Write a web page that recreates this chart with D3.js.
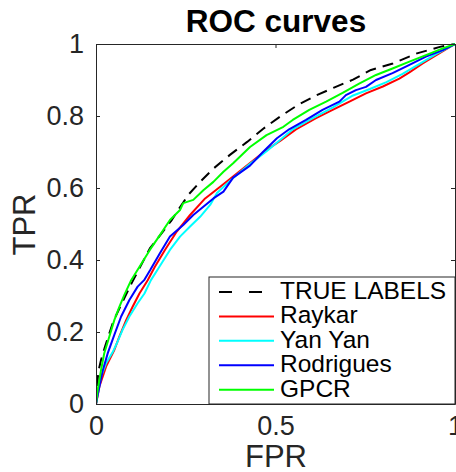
<!DOCTYPE html>
<html>
<head>
<meta charset="utf-8">
<script src="https://cdn.jsdelivr.net/npm/d3@7"></script>
<style>
html,body{margin:0;padding:0;background:#fff;}
svg{display:block;font-family:"Liberation Sans",Arial,Helvetica,sans-serif;}
</style>
</head>
<body>
<svg id="chart" width="456" height="472"></svg>
<script>
// ---- data (FPR, TPR) ----
const seriesNames = ["TRUE LABELS", "Raykar", "Yan Yan", "Rodrigues", "GPCR"];
const seriesColors = ["#000000", "#ff0000", "#00ffff", "#0000ff", "#00ff00"];

const trueLabels = [[0,0],[0.0064,0.090],[0.014,0.122],[0.025,0.159],[0.048,0.229],[0.072,0.280],[0.099,0.335],[0.150,0.432],[0.211,0.511],[0.229,0.539],[0.257,0.581],[0.290,0.617],[0.326,0.653],[0.373,0.692],[0.421,0.728],[0.465,0.764],[0.515,0.800],[0.563,0.831],[0.613,0.857],[0.663,0.879],[0.716,0.901],[0.766,0.928],[0.827,0.946],[0.894,0.974],[0.958,0.992],[1,1]];

const raykar = [[0,0],[0.0093,0.048],[0.028,0.104],[0.051,0.150],[0.065,0.187],[0.084,0.233],[0.102,0.270],[0.121,0.307],[0.144,0.344],[0.164,0.381],[0.192,0.428],[0.225,0.479],[0.262,0.525],[0.304,0.571],[0.345,0.603],[0.387,0.636],[0.429,0.669],[0.471,0.703],[0.513,0.731],[0.557,0.763],[0.613,0.794],[0.659,0.817],[0.706,0.840],[0.752,0.863],[0.799,0.882],[0.845,0.904],[0.873,0.921],[0.910,0.946],[0.956,0.974],[1,1]];

const yanYan = [[0,0],[0.0047,0.030],[0.014,0.076],[0.028,0.113],[0.047,0.145],[0.060,0.173],[0.074,0.206],[0.093,0.243],[0.116,0.280],[0.135,0.307],[0.153,0.344],[0.174,0.377],[0.206,0.428],[0.234,0.465],[0.262,0.493],[0.290,0.520],[0.318,0.553],[0.337,0.586],[0.382,0.628],[0.429,0.667],[0.476,0.703],[0.521,0.740],[0.548,0.763],[0.604,0.794],[0.660,0.824],[0.716,0.857],[0.763,0.875],[0.809,0.894],[0.854,0.917],[0.900,0.944],[0.947,0.972],[1,1]];

const rodrigues = [[0,0],[0.0047,0.025],[0.019,0.094],[0.033,0.142],[0.051,0.192],[0.070,0.243],[0.093,0.289],[0.116,0.326],[0.134,0.344],[0.151,0.372],[0.178,0.419],[0.206,0.465],[0.243,0.497],[0.271,0.525],[0.299,0.548],[0.327,0.571],[0.355,0.590],[0.382,0.629],[0.429,0.662],[0.465,0.700],[0.504,0.738],[0.538,0.763],[0.585,0.789],[0.631,0.817],[0.678,0.840],[0.696,0.858],[0.724,0.872],[0.752,0.881],[0.780,0.900],[0.826,0.919],[0.873,0.942],[0.919,0.965],[0.966,0.983],[1,1]];

const gpcr = [[0,0],[0.0047,0.039],[0.014,0.094],[0.023,0.141],[0.037,0.187],[0.051,0.233],[0.065,0.270],[0.079,0.303],[0.098,0.344],[0.150,0.428],[0.178,0.469],[0.206,0.511],[0.234,0.539],[0.243,0.558],[0.271,0.567],[0.299,0.594],[0.327,0.617],[0.355,0.645],[0.382,0.669],[0.429,0.714],[0.475,0.747],[0.522,0.770],[0.548,0.789],[0.594,0.817],[0.641,0.840],[0.687,0.864],[0.733,0.890],[0.780,0.914],[0.826,0.932],[0.873,0.951],[0.919,0.969],[0.966,0.988],[1,1]];

const seriesData = [trueLabels, raykar, yanYan, rodrigues, gpcr];
const xTicks = [0, 0.5, 1];
const yTicks = [0, 0.2, 0.4, 0.6, 0.8, 1];
const xTickLabels = ["0", "0.5", "1"];
const yTickLabels = ["0", "0.2", "0.4", "0.6", "0.8", "1"];

// ---- layout ----
const svg = d3.select("#chart");
const L = 96, R = 455, T = 44, B = 404;
const axisColor = "#262626";
const x = d3.scaleLinear().domain([0, 1]).range([L, R]);
const y = d3.scaleLinear().domain([0, 1]).range([B, T]);

svg.append("defs").append("clipPath").attr("id", "clip")
  .append("rect").attr("x", L).attr("y", T - 2).attr("width", R - L + 2).attr("height", B - T + 4);

svg.append("rect").attr("x", L).attr("y", T).attr("width", R - L).attr("height", B - T).attr("fill", "#fff");

// curves
const line = d3.line().x(d => x(d[0])).y(d => y(d[1]));
const g = svg.append("g").attr("clip-path", "url(#clip)");
seriesData.forEach((data, i) => {
  g.append("path").datum(data)
    .attr("d", line)
    .attr("fill", "none")
    .attr("stroke", seriesColors[i])
    .attr("stroke-width", 2)
    .attr("stroke-linejoin", "round")
    .attr("stroke-dasharray", i === 0 ? "11,7" : null);
});

// axes (ticks inside, box)
const tickLen = 4;
const axB = svg.append("g").attr("transform", `translate(0,${B})`)
  .call(d3.axisBottom(x).tickValues(xTicks).tickSizeInner(-tickLen).tickSizeOuter(0).tickFormat((d, i) => xTickLabels[i]).tickPadding(12));
const axT = svg.append("g").attr("transform", `translate(0,${T})`)
  .call(d3.axisTop(x).tickValues(xTicks).tickSizeInner(-tickLen).tickSizeOuter(0).tickFormat(""));
const axL = svg.append("g").attr("transform", `translate(${L},0)`)
  .call(d3.axisLeft(y).tickValues(yTicks).tickSizeInner(-tickLen).tickSizeOuter(0).tickFormat((d, i) => yTickLabels[i]).tickPadding(12));
const axR = svg.append("g").attr("transform", `translate(${R},0)`)
  .call(d3.axisRight(y).tickValues(yTicks).tickSizeInner(-tickLen).tickSizeOuter(0).tickFormat(""));

[axB, axT, axL, axR].forEach(a => {
  a.select(".domain").attr("stroke", axisColor).attr("stroke-width", 1);
  a.selectAll(".tick line").attr("stroke", axisColor).attr("stroke-width", 1);
  a.selectAll(".tick text").attr("fill", axisColor).attr("font-size", 27)
    .attr("font-family", "'Liberation Sans', Arial, sans-serif");
});
axB.selectAll(".tick text").attr("dy", "0.71em");

// title & labels
svg.append("text").attr("x", 276).attr("y", 32).attr("text-anchor", "middle")
  .attr("font-size", 31.5).attr("font-weight", "bold").attr("fill", "#000").text("ROC curves");
svg.append("text").attr("x", 276).attr("y", 467).attr("text-anchor", "middle")
  .attr("font-size", 31).attr("fill", axisColor).text("FPR");
svg.append("text").attr("transform", "translate(35,224.5) rotate(-90)").attr("text-anchor", "middle")
  .attr("font-size", 31).attr("fill", axisColor).text("TPR");

// legend
const lg = svg.append("g");
lg.append("rect").attr("x", 209).attr("y", 277).attr("width", R - 209).attr("height", B - 277)
  .attr("fill", "#fff").attr("stroke", axisColor).attr("stroke-width", 1);
const rowY = d3.scaleLinear().domain([0, 4]).range([299, 396.7]);
seriesNames.forEach((name, i) => {
  const by = rowY(i);
  lg.append("line").attr("x1", 219).attr("x2", 274).attr("y1", by - 7).attr("y2", by - 7)
    .attr("stroke", seriesColors[i]).attr("stroke-width", 2)
    .attr("stroke-dasharray", i === 0 ? "13,17" : null);
  lg.append("text").attr("x", 280).attr("y", by).attr("font-size", 24.5).attr("fill", "#000").text(name);
});
</script>
</body>
</html>
